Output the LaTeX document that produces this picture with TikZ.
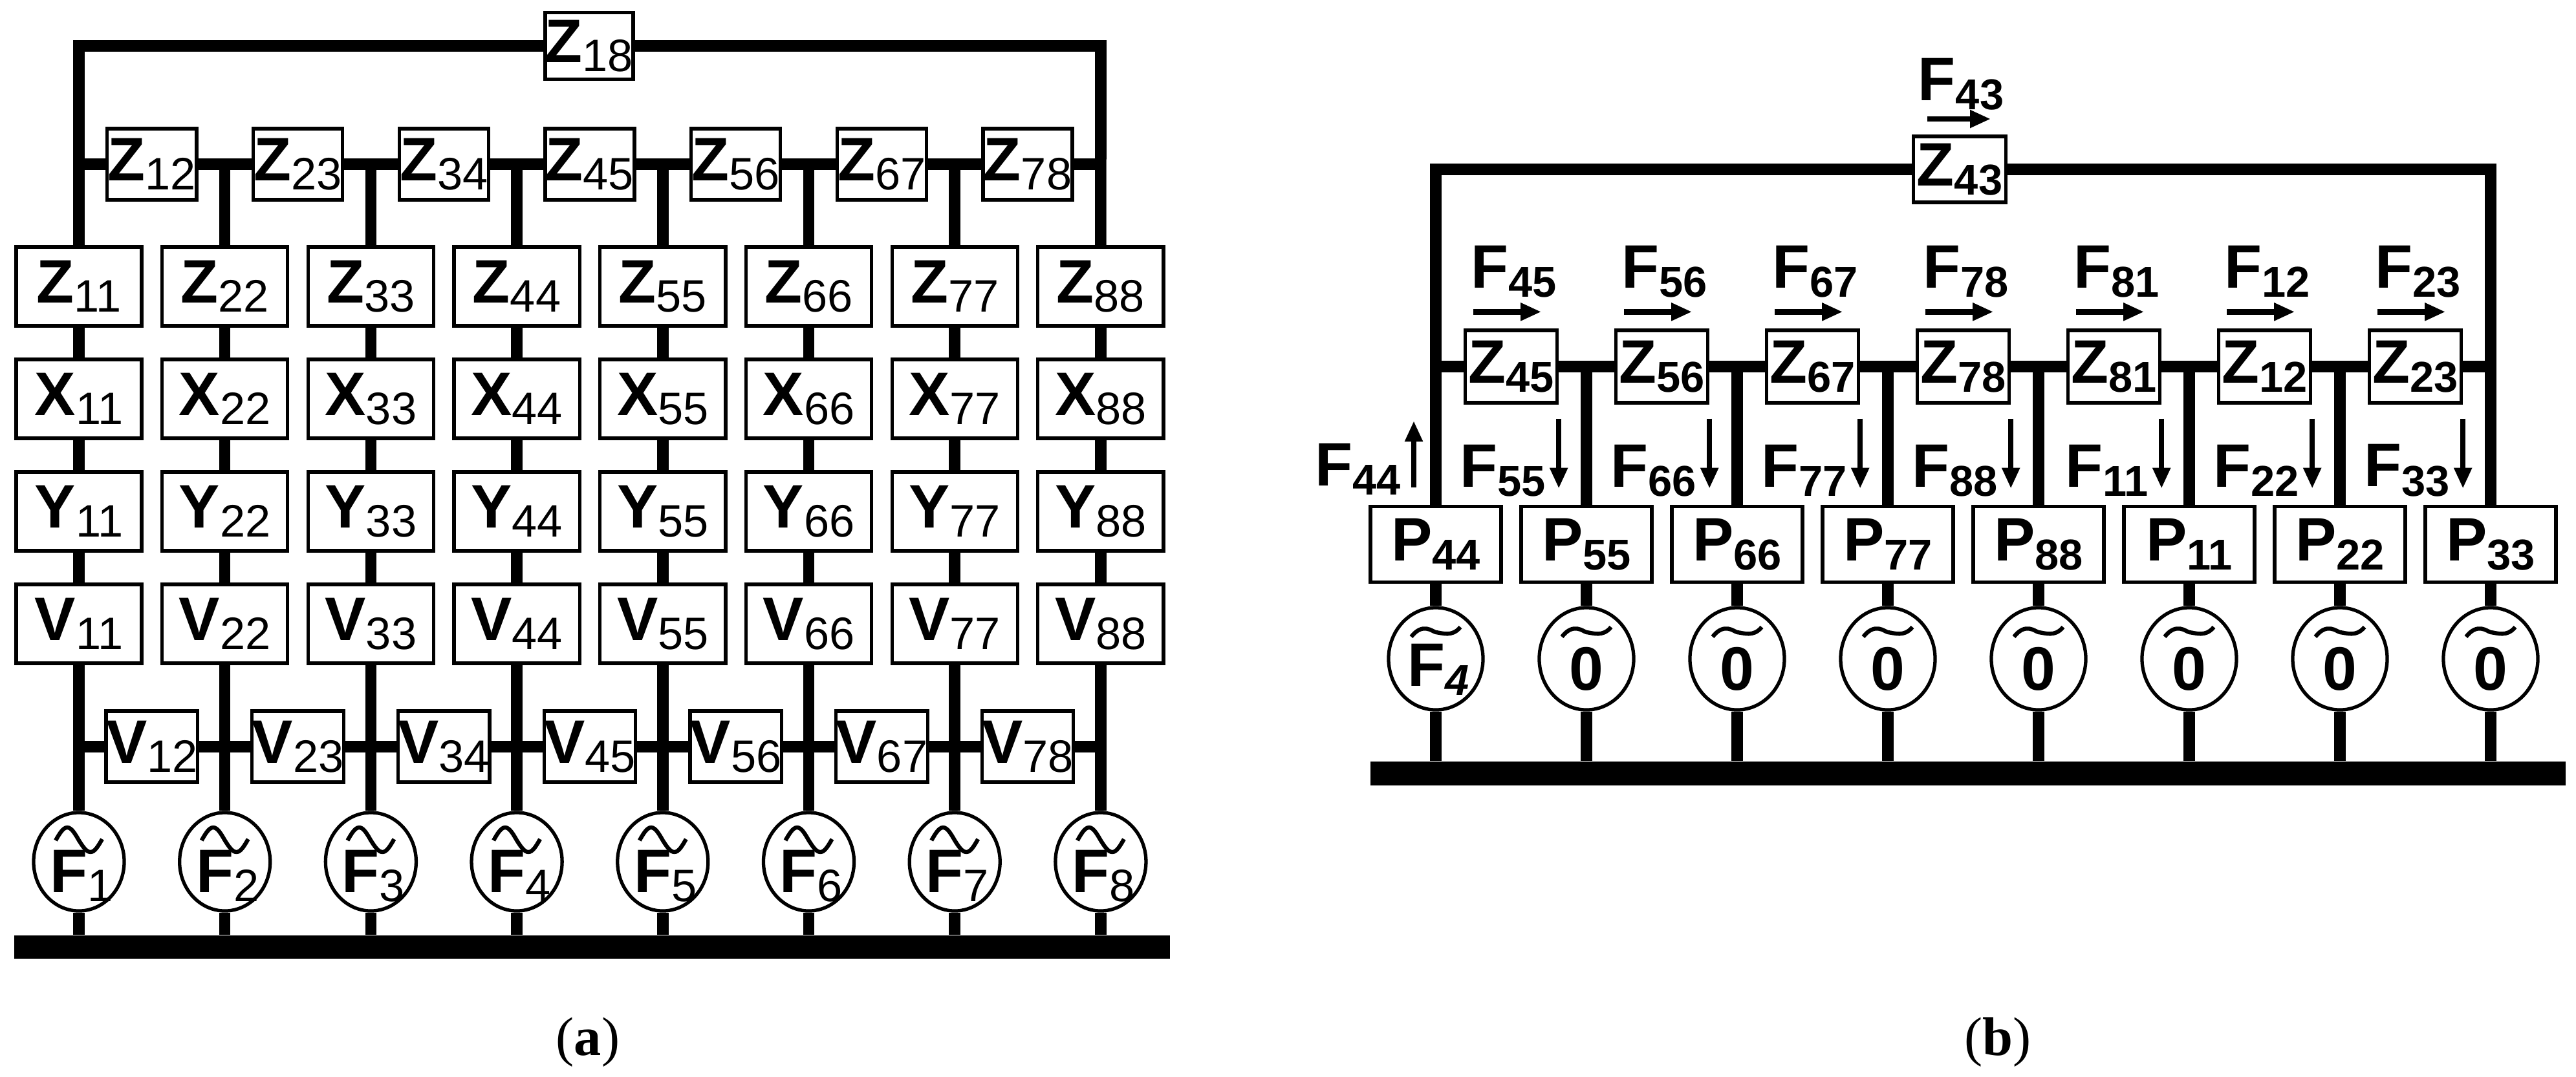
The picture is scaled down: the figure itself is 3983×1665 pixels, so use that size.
\documentclass[tikz,border=0pt]{standalone}
\usepackage{fontspec}
\setmainfont{Liberation Sans}
\newfontfamily\capfont{Liberation Serif}
\usetikzlibrary{arrows.meta,shapes.geometric,backgrounds,calc}
\newcommand{\ta}[2]{#1\raisebox{-0.28ex}{\fontsize{20}{22}\selectfont\mdseries #2}}
\newcommand{\tb}[2]{#1\raisebox{-0.28ex}{\fontsize{19}{22}\selectfont #2}}
\begin{document}
\begin{tikzpicture}[x=0.01cm,y=-0.01cm,
  wire/.style={line width=5pt},
  txt/.style={font=\fontsize{27}{30}\selectfont\bfseries},
  box/.style={draw,line width=1.5pt,fill=white,inner sep=0pt,txt},
  bigbox/.style={box,minimum width=1.94cm,minimum height=1.22cm},
  smallbox/.style={box,minimum width=1.38cm,minimum height=1.10cm},
  pbox/.style={box,minimum width=2.02cm,minimum height=1.17cm},
  zbbox/.style={box,minimum width=1.42cm,minimum height=1.12cm},
  gen/.style={draw,ellipse,line width=1.5pt,fill=white,inner sep=0pt,minimum width=1.40cm,minimum height=1.52cm},
  genb/.style={draw,ellipse,line width=1.5pt,fill=white,inner sep=0pt,minimum width=1.46cm,minimum height=1.58cm},
  bus/.style={fill=black,inner sep=0pt},
  flow/.style={line width=2.4pt,-{Triangle[length=0.32cm,width=0.26cm]}},
  tilde/.style={line width=1.8pt}
]
\useasboundingbox (0,0) rectangle (3983,1665);
% ---------- (a)
\foreach \i in {1,...,8}{
  \pgfmathsetmacro{\xx}{122+225.7*(\i-1)}
  \node[bigbox] (Z\i) at (\xx,443) {\ta{Z}{\i\i}};
  \node[bigbox] (X\i) at (\xx,617) {\ta{X}{\i\i}};
  \node[bigbox] (Y\i) at (\xx,791) {\ta{Y}{\i\i}};
  \node[bigbox] (V\i) at (\xx,965) {\ta{V}{\i\i}};
  \node[gen] (F\i) at (\xx,1333) {};
  \node[txt] at (\xx+4,1355) {\ta{F}{\i}};
  \draw[tilde] (\xx-36,1300) sin (\xx-18,1280) cos (\xx,1300) sin (\xx+18,1318) cos (\xx+36,1298);
  \coordinate (za\i) at (\xx,254);
  \coordinate (va\i) at (\xx,1155);
}
\foreach \i/\j in {1/2,2/3,3/4,4/5,5/6,6/7,7/8}{
  \node[smallbox] (Zr\i) at ($(za\i)!0.5!(za\j)$) {\ta{Z}{\i\j}};
  \node[smallbox] (Vr\i) at ($(va\i)!0.5!(va\j)$) {\ta{V}{\i\j}};
}
\coordinate (ta1) at (122,71);
\coordinate (ta8) at (1702,71);
\node[smallbox,minimum width=1.36cm,minimum height=1.03cm] (Z18) at (911,71) {\ta{Z}{18}};
\node[bus,minimum width=17.85cm,minimum height=0.36cm] (busa) at (915.5,1465) {};
\node[font=\capfont\fontsize{24}{28}\selectfont] (capa) at (909,1612) {(\textbf{a})};
\begin{scope}[on background layer]
  \draw[wire] (Z1.north) -- (ta1) -- (ta8) -- (Z8.north);
  \draw[wire] (za1) -- (za8);
  \draw[wire] (va1) -- (va8);
  \foreach \i in {2,...,7}{\draw[wire] (za\i) -- (Z\i.north);}
  \foreach \i in {1,...,8}{
    \draw[wire] (Z\i) -- (X\i) -- (Y\i) -- (V\i) -- (F\i);
    \draw[wire] (F\i.south) -- (F\i |- busa.north);
  }
\end{scope}
% ---------- (b)
\foreach \i/\n in {1/4,2/5,3/6,4/7,5/8,6/1,7/2,8/3}{
  \pgfmathsetmacro{\xx}{2220+233*(\i-1)}
  \node[pbox] (P\i) at (\xx,842) {\tb{P}{\n\n}};
  \node[genb] (G\i) at (\xx,1019) {};
  \draw[tilde] (\xx-38,985) .. controls (\xx-20,962) and (\xx-5,977) .. (\xx,978) .. controls (\xx+10,979) and (\xx+25,986) .. (\xx+38,970);
  \coordinate (zb\i) at (\xx,567);
}
\node[txt] at (2220+4,1036) {\tb{F}{\textit{4}}};
\foreach \i in {2,...,8}{\node[txt] at ($(G\i)+(0,16)$) {0};}
\foreach \i/\j/\a/\b in {1/2/4/5,2/3/5/6,3/4/6/7,4/5/7/8,5/6/8/1,6/7/1/2,7/8/2/3}{
  \node[zbbox] (Zb\i) at ($(zb\i)!0.5!(zb\j)$) {\tb{Z}{\a\b}};
  \coordinate (fa\i) at ($(Zb\i.north west)+(15,-26)$);
  \coordinate (fb\i) at ($(Zb\i.north east)+(-27,-26)$);
  \node[txt,anchor=south] (Fl\i) at ($(Zb\i.north)+(4,-36)$) {\tb{F}{\a\b}};
  \draw[flow] (fa\i) -- (fb\i);
  \coordinate (da\j) at ($(Zb\i.south east)+(0,22)$);
  \coordinate (db\j) at ($(Zb\i.south east)+(0,130)$);
  \draw[flow] (da\j) -- (db\j);
  \node[txt,anchor=east] (Fd\j) at ($(db\j)+(-8,-28)$) {\tb{F}{\b\b}};
}
\coordinate (ua) at (2186,754);
\coordinate (ub) at (2186,651);
\draw[flow] (ua) -- (ub);
\node[txt,anchor=east] (F44) at (2178,726) {\tb{F}{44}};
\coordinate (tb1) at (2220,262);
\coordinate (tb8) at (3851,262);
\node[zbbox,minimum width=1.43cm,minimum height=1.02cm] (Z43) at (3030,262) {\tb{Z}{43}};
\coordinate (f43a) at (2980,184);
\coordinate (f43b) at (3078,184);
\draw[flow] (f43a) -- (f43b);
\node[txt] (F43) at (3032,130) {\tb{F}{43}};
\node[bus,minimum width=18.46cm,minimum height=0.37cm] (busb) at (3043,1196) {};
\node[font=\capfont\fontsize{24}{28}\selectfont] (capb) at (3089,1612) {(\textbf{b})};
\begin{scope}[on background layer]
  \draw[wire] (P1.north) -- (tb1) -- (tb8) -- (zb8);
  \draw[wire] (zb1) -- (zb8);
  \foreach \i in {2,...,8}{\draw[wire] (zb\i) -- (P\i.north);}
  \foreach \i in {1,...,8}{
    \draw[wire] (P\i) -- (G\i);
    \draw[wire] (G\i.south) -- (G\i |- busb.north);
  }
\end{scope}
\end{tikzpicture}
\end{document}
